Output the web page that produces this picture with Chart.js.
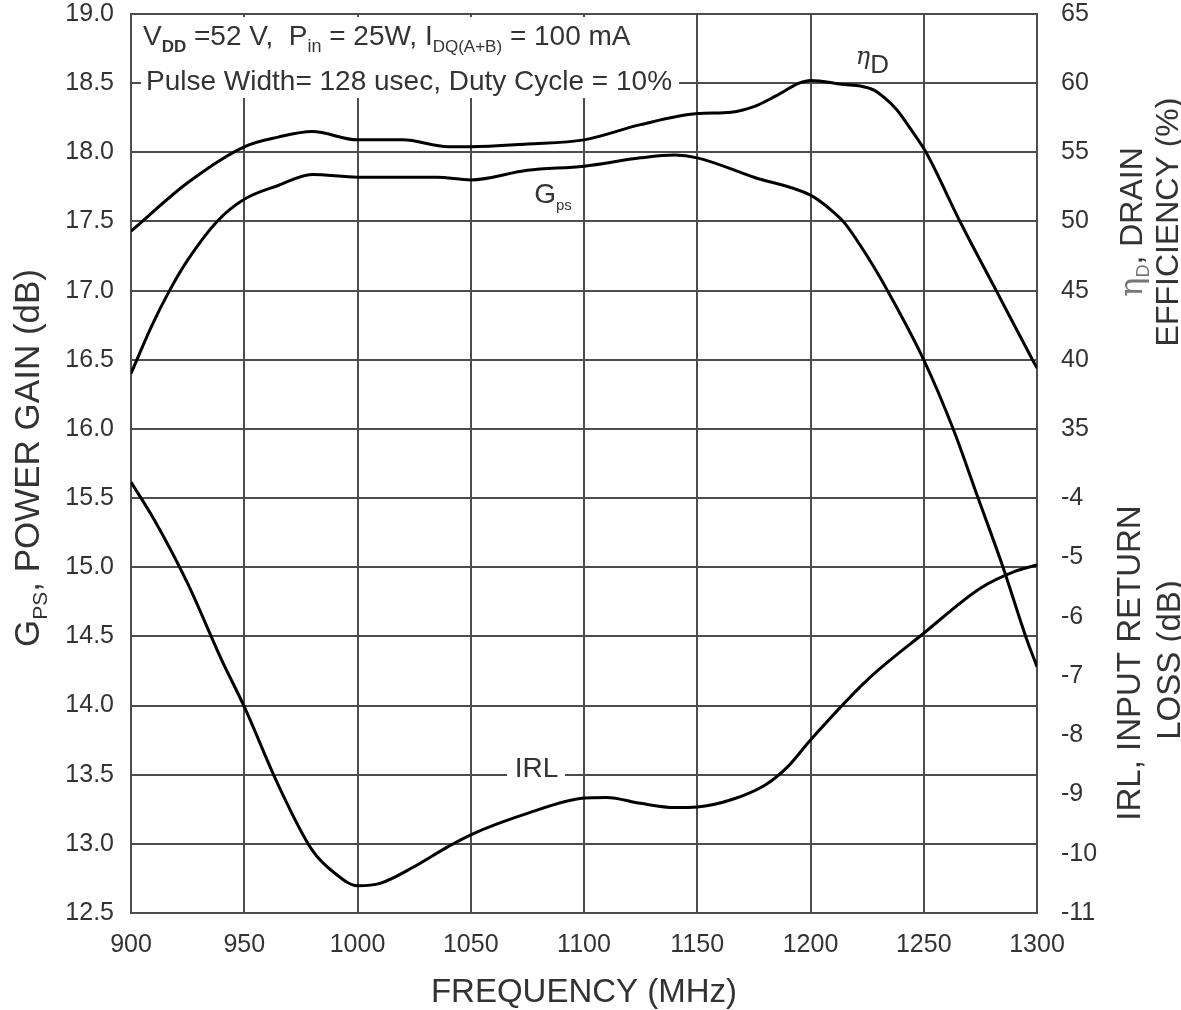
<!DOCTYPE html>
<html>
<head>
<meta charset="utf-8">
<script src="https://cdn.jsdelivr.net/npm/chart.js@4.4.1/dist/chart.umd.min.js"></script>
<style>body{margin:0;background:#fff}</style>
</head>
<body>
<canvas id="c" width="1181" height="1010"></canvas>
<script>
const FONT = "'Liberation Sans', Arial, Helvetica, sans-serif";
const GREEK = "'DejaVu Serif', serif";
const INK = '#333';
const GRID = '#4d4d4d';

// axes
const freqMin = 900, freqMax = 1300, freqStep = 50;
const gainMin = 12.5, gainMax = 19.0, gainStep = 0.5;
const effTicks = [35, 40, 45, 50, 55, 60, 65];           // drain efficiency (%)
const irlTicks = [-11, -10, -9, -8, -7, -6, -5, -4];     // input return loss (dB)
// eff axis: 0..65 spans the whole gain range ; irl: -11..-4 spans 12.5..15.5 dB of gain
const effMin = 0, effMax = 65;
const irlMin = -11, irlMax = -11 + (gainMax - gainMin) * 7 / 3;

// ηD, drain efficiency
const effFreq = [900, 925, 950, 965, 980, 1000, 1020, 1040, 1050, 1075, 1100, 1125, 1150, 1165, 1175, 1185, 1195, 1200, 1215, 1222, 1228, 1233, 1238, 1245, 1251, 1266, 1282, 1298, 1300];
const effVals = [49.3, 52.8, 55.4, 56.1, 56.5, 55.9, 55.9, 55.4, 55.4, 55.6, 55.9, 57.0, 57.8, 57.9, 58.3, 59.1, 60.0, 60.2, 59.9, 59.8, 59.5, 58.9, 58.1, 56.5, 55.0, 50.0, 45.0, 40.0, 39.4];

// Gps, power gain
const gainFreq = [900, 909, 917, 925, 938, 950, 965, 980, 1000, 1020, 1035, 1050, 1075, 1100, 1125, 1140, 1150, 1175, 1200, 1210, 1215, 1225, 1234, 1250, 1263, 1274, 1285, 1295, 1300];
const gainVals = [16.40, 16.74, 17.00, 17.22, 17.50, 17.66, 17.76, 17.84, 17.82, 17.82, 17.82, 17.80, 17.87, 17.90, 17.96, 17.98, 17.96, 17.82, 17.69, 17.57, 17.49, 17.25, 17.00, 16.50, 16.00, 15.50, 15.00, 14.50, 14.28];

// IRL, input return loss
const irlFreq = [900, 910, 925, 940, 950, 965, 980, 990, 1000, 1010, 1025, 1040, 1050, 1075, 1100, 1110, 1125, 1140, 1150, 1165, 1180, 1190, 1200, 1225, 1250, 1275, 1290, 1300];
const irlVals = [-3.73, -4.35, -5.44, -6.73, -7.52, -8.84, -9.94, -10.33, -10.54, -10.50, -10.22, -9.88, -9.68, -9.32, -9.06, -9.05, -9.15, -9.22, -9.21, -9.09, -8.84, -8.53, -8.08, -7.07, -6.28, -5.52, -5.24, -5.13];

const pts = (xs, ys) => xs.map((x, i) => ({x: x, y: ys[i]}));

// right axis shares the gain range, labels come from eff / irl ticks
const toGain = (v, lo, hi) => gainMin + (v - lo) / (hi - lo) * (gainMax - gainMin);
const rightTicks = irlTicks.map(v => ({value: toGain(v, irlMin, irlMax), lbl: String(v)}))
	.concat(effTicks.map(v => ({value: toGain(v, effMin, effMax), lbl: String(v)})));

function drawRuns(ctx, x, y, runs, align) {
	let total = 0;
	runs.forEach(r => {
		ctx.font = (r.st || '') + ' ' + r.s + 'px ' + (r.f || FONT);
		r.w = ctx.measureText(r.t).width;
		total += r.w;
	});
	let cx = align === 'center' ? x - total / 2 : x;
	runs.forEach(r => {
		ctx.font = (r.st || '') + ' ' + r.s + 'px ' + (r.f || FONT);
		ctx.fillStyle = r.c || INK;
		ctx.fillText(r.t, cx, y + (r.dy || 0));
		cx += r.w;
	});
}

function drawVertical(ctx, cx, cy, size, runs) {
	ctx.save();
	ctx.translate(cx, cy);
	ctx.rotate(-Math.PI / 2);
	drawRuns(ctx, 0, size * 0.36, runs, 'center');
	ctx.restore();
}

const notes = {
	id: 'notes',
	beforeDatasetsDraw(chart) {
		const ctx = chart.ctx, a = chart.chartArea, x = chart.scales.x, y = chart.scales.y;
		ctx.save();
		ctx.fillStyle = '#fff';
		ctx.fillRect(a.left + 10, a.top + 3, 538, 81);           // condition box
		ctx.fillRect(x.getPixelForValue(1066), y.getPixelForValue(13.5) - 6, 58, 12); // IRL label gap
		ctx.restore();
	},
	afterDatasetsDraw(chart) {
		const ctx = chart.ctx, a = chart.chartArea, x = chart.scales.x, y = chart.scales.y;
		ctx.save();
		ctx.textBaseline = 'alphabetic';
		drawRuns(ctx, a.left + 12, a.top + 31, [
			{t: 'V', s: 28}, {t: 'DD', s: 17, st: 'bold', dy: 7},
			{t: ' =52 V,  P', s: 28}, {t: 'in', s: 18, dy: 7},
			{t: ' = 25W, I', s: 28}, {t: 'DQ(A+B)', s: 17, dy: 7},
			{t: ' = 100 mA', s: 28}
		]);
		drawRuns(ctx, a.left + 15, a.top + 76, [{t: 'Pulse Width= 128 usec, Duty Cycle = 10%', s: 28}]);
		// curve labels
		drawRuns(ctx, x.getPixelForValue(1078), y.getPixelForValue(17.63), [{t: 'G', s: 28}, {t: 'ps', s: 15, dy: 7}]);
		drawRuns(ctx, x.getPixelForValue(1079), y.getPixelForValue(13.48), [{t: 'IRL', s: 28}], 'center');
		drawRuns(ctx, x.getPixelForValue(1220), y.getPixelForValue(18.58), [
			{t: 'η', s: 24, f: GREEK, st: 'italic', dy: -8}, {t: 'D', s: 26, dy: 1}
		]);
		// axis titles
		drawVertical(ctx, 26, 458, 35, [{t: 'G', s: 35}, {t: 'PS', s: 21, dy: 8}, {t: ', POWER GAIN (dB)', s: 35}]);
		drawVertical(ctx, 1130, 222, 32, [{t: 'η', s: 32, f: GREEK, c: '#777'}, {t: 'D', s: 18, dy: 7, c: '#777'}, {t: ', DRAIN', s: 32}]);
		drawVertical(ctx, 1166, 222, 32, [{t: 'EFFICIENCY (%)', s: 32}]);
		drawVertical(ctx, 1128, 663, 33, [{t: 'IRL, INPUT RETURN', s: 33}]);
		drawVertical(ctx, 1168, 660, 33, [{t: 'LOSS (dB)', s: 33}]);
		ctx.restore();
	}
};

const curve = {borderColor: '#000', borderWidth: 3, pointRadius: 0, fill: false, cubicInterpolationMode: 'monotone'};

new Chart(document.getElementById('c'), {
	type: 'line',
	plugins: [notes],
	data: {
		datasets: [
			Object.assign({label: 'ηD', data: pts(effFreq, effVals), yAxisID: 'yEff'}, curve),
			Object.assign({label: 'Gps', data: pts(gainFreq, gainVals), yAxisID: 'y'}, curve),
			Object.assign({label: 'IRL', data: pts(irlFreq, irlVals), yAxisID: 'yIrl'}, curve)
		]
	},
	options: {
		responsive: false,
		animation: false,
		devicePixelRatio: 1,
		layout: {padding: {top: 14, left: 0, right: 0, bottom: 0}},
		plugins: {legend: {display: false}, tooltip: {enabled: false}},
		scales: {
			x: {
				type: 'linear', min: freqMin, max: freqMax,
				afterFit: s => { s.height = 97; s.paddingLeft = 0; s.paddingRight = 0; },
				ticks: {stepSize: freqStep, color: INK, padding: 17, font: {family: FONT, size: 25},
					callback: v => String(v)},
				grid: {color: GRID, lineWidth: 2, drawTicks: false},
				border: {color: GRID, width: 2},
				title: {display: true, text: 'FREQUENCY (MHz)', color: INK, padding: 0,
					font: {family: FONT, size: 33, lineHeight: 1.05}}
			},
			y: {
				position: 'left', min: gainMin, max: gainMax,
				afterFit: s => { s.width = 131; s.paddingTop = 0; s.paddingBottom = 0; },
				ticks: {stepSize: gainStep, color: INK, padding: 17, font: {family: FONT, size: 25},
					callback: v => v.toFixed(1)},
				grid: {color: GRID, lineWidth: 2, drawTicks: false},
				border: {color: GRID, width: 2}
			},
			yR: {
				position: 'right', min: gainMin, max: gainMax,
				afterFit: s => { s.width = 144; s.paddingTop = 0; s.paddingBottom = 0; },
				afterBuildTicks: s => { s.ticks = rightTicks.map(t => Object.assign({}, t)); },
				ticks: {autoSkip: false, color: INK, padding: 24, font: {family: FONT, size: 25},
					callback: (v, i, ticks) => ticks[i].lbl},
				grid: {display: false, drawTicks: false},
				border: {color: GRID, width: 2}
			},
			yEff: {display: false, min: effMin, max: effMax},
			yIrl: {display: false, min: irlMin, max: irlMax}
		}
	}
});
</script>
</body>
</html>
